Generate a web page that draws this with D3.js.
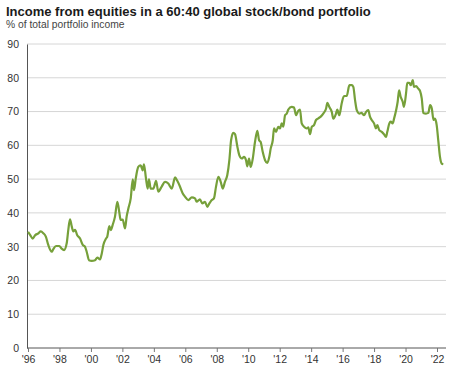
<!DOCTYPE html>
<html>
<head>
<meta charset="utf-8">
<script src="https://cdn.jsdelivr.net/npm/d3@7"></script>
<style>
  body { margin: 0; background: #fff; }
  svg { display: block; font-family: "Liberation Sans", Arial, sans-serif; }
</style>
</head>
<body>
<div class="container"></div>
<script>
// 图表标题
const title = "Income from equities in a 60:40 global stock/bond portfolio";
const subtitle = "% of total portfolio income";

// 时间（年，小数）和股票收入占比
const dates = [
  1996.0, 1996.13, 1996.3, 1996.45, 1996.65, 1996.81, 1996.97, 1997.14, 1997.29, 1997.51,
  1997.61, 1997.78, 1997.99, 1998.14, 1998.29, 1998.46, 1998.56, 1998.67, 1998.78, 1998.88,
  1998.99, 1999.13, 1999.31, 1999.48, 1999.62, 1999.73, 1999.88, 2000.05, 2000.26, 2000.41,
  2000.58, 2000.69, 2000.79, 2000.96, 2001.04, 2001.17, 2001.26, 2001.38, 2001.53, 2001.68,
  2001.8, 2001.89, 2002.02, 2002.17, 2002.27, 2002.38, 2002.53, 2002.66, 2002.74, 2002.85,
  2003.01, 2003.16, 2003.29, 2003.37, 2003.5, 2003.61, 2003.69, 2003.8, 2003.97, 2004.14,
  2004.28, 2004.5, 2004.71, 2004.92, 2005.14, 2005.35, 2005.49, 2005.66, 2005.83, 2005.98,
  2006.19, 2006.41, 2006.62, 2006.72, 2006.93, 2007.08, 2007.25, 2007.4, 2007.53, 2007.68,
  2007.82, 2007.95, 2008.1, 2008.25, 2008.38, 2008.52, 2008.67, 2008.8, 2008.91, 2009.05,
  2009.16, 2009.31, 2009.43, 2009.59, 2009.73, 2009.86, 2009.94, 2010.05, 2010.16, 2010.29,
  2010.43, 2010.58, 2010.69, 2010.79, 2010.92, 2011.07, 2011.21, 2011.34, 2011.43, 2011.56,
  2011.64, 2011.77, 2011.91, 2012.02, 2012.13, 2012.23, 2012.34, 2012.45, 2012.55, 2012.76,
  2012.91, 2013.04, 2013.18, 2013.29, 2013.4, 2013.55, 2013.72, 2013.82, 2013.93, 2014.04,
  2014.18, 2014.31, 2014.46, 2014.61, 2014.77, 2014.95, 2015.03, 2015.15, 2015.31, 2015.41,
  2015.58, 2015.66, 2015.79, 2015.94, 2016.09, 2016.26, 2016.43, 2016.58, 2016.68, 2016.79,
  2016.9, 2017.06, 2017.21, 2017.36, 2017.49, 2017.63, 2017.74, 2017.85, 2018.0, 2018.12,
  2018.21, 2018.33, 2018.49, 2018.63, 2018.76, 2018.84, 2018.97, 2019.06, 2019.18, 2019.27,
  2019.4, 2019.5, 2019.59, 2019.69, 2019.82, 2019.9, 2020.03, 2020.11, 2020.24, 2020.33,
  2020.46, 2020.54, 2020.67, 2020.81, 2020.92, 2021.03, 2021.13, 2021.3, 2021.45, 2021.56,
  2021.67, 2021.78, 2021.87, 2021.98, 2022.08, 2022.19, 2022.3, 2022.4
];
const equityShare = [
  34.4, 33.5, 32.4, 33.4, 33.9, 34.5, 34.0, 32.9, 30.5, 28.5,
  29.3, 30.2, 30.2, 29.4, 29.0, 31.0, 34.9, 38.1, 36.0, 34.5,
  35.0, 33.4, 32.4, 30.5, 30.0, 28.5, 26.0, 25.8, 26.0, 26.8,
  26.2, 28.0, 30.5, 32.4, 33.0, 36.1, 34.9, 36.4, 38.9, 43.3,
  40.3, 37.9, 38.0, 35.4, 38.9, 41.3, 44.3, 49.9, 46.7, 50.2,
  53.6, 54.1, 52.6, 54.4, 50.2, 47.2, 49.9, 47.2, 47.2, 49.5,
  46.3, 47.8, 49.2, 48.7, 47.2, 50.5, 49.5, 47.8, 45.8, 44.8,
  43.8, 44.6, 44.3, 43.3, 44.0, 42.8, 43.3, 41.8, 42.8, 43.8,
  44.3, 47.7, 50.7, 49.2, 47.2, 49.2, 51.2, 55.6, 61.5, 63.7,
  63.3, 59.6, 57.1, 56.1, 56.6, 55.6, 53.8, 56.1, 53.6, 56.1,
  61.0, 64.3, 61.5, 61.0, 58.1, 55.6, 54.8, 56.6, 59.1, 61.5,
  65.0, 64.0, 65.5, 65.0, 66.5, 65.5, 68.9, 69.4, 70.6, 71.4,
  71.2, 68.9, 70.2, 70.6, 66.5, 65.5, 65.0, 65.3, 63.3, 65.5,
  66.0, 67.5, 68.0, 68.5, 69.4, 70.9, 72.6, 71.4, 69.9, 67.9,
  69.4, 70.6, 68.9, 72.4, 74.6, 74.6, 77.8, 77.8, 77.3, 73.4,
  70.4, 69.4, 69.6, 68.9, 69.9, 70.4, 68.5, 67.5, 66.5, 65.0,
  66.0, 64.5, 64.0, 63.3, 62.5, 64.0, 66.5, 67.0, 66.5, 67.9,
  70.4, 72.9, 76.3, 74.4, 72.9, 71.4, 75.3, 78.5, 78.5, 77.8,
  79.3, 77.3, 77.5, 76.8, 76.1, 73.9, 69.6, 69.4, 69.6, 71.9,
  70.9, 67.5, 67.9, 66.0, 61.5, 56.6, 54.6, 54.4
];

// 坐标轴刻度
const yTicks = [0, 10, 20, 30, 40, 50, 60, 70, 80, 90];
const xTicks = [1996, 1998, 2000, 2002, 2004, 2006, 2008, 2010, 2012, 2014, 2016, 2018, 2020, 2022];

const width = 450, height = 372;
const margin = { top: 44, right: 4, bottom: 24, left: 27 };

const data = dates.map((d, i) => ({ t: d, v: equityShare[i] }));

const svg = d3.select(".container")
    .append("svg")
    .attr("width", width)
    .attr("height", height);

// 比例尺
const x = d3.scaleLinear()
    .domain([1996, 2022])
    .range([margin.left + 1, 437]);

const y = d3.scaleLinear()
    .domain([0, 90])
    .range([height - margin.bottom, margin.top]);

// 标题
svg.append("text")
    .attr("x", 6)
    .attr("y", 16)
    .attr("font-size", 13)
    .attr("font-weight", "bold")
    .attr("fill", "#1a1a1a")
    .text(title);

svg.append("text")
    .attr("x", 6)
    .attr("y", 28)
    .attr("font-size", 10.3)
    .attr("fill", "#444")
    .text(subtitle);

// 网格线
svg.append("g")
    .selectAll("line")
    .data(yTicks.filter(d => d > 0))
    .join("line")
    .attr("x1", margin.left)
    .attr("x2", width - margin.right)
    .attr("y1", d => y(d))
    .attr("y2", d => y(d))
    .attr("stroke", "#d6d6d6")
    .attr("stroke-width", 1);

// y轴
const yAxis = svg.append("g")
    .attr("transform", `translate(${margin.left},0)`)
    .call(d3.axisLeft(y).tickValues(yTicks).tickSize(0).tickPadding(8));
yAxis.select(".domain").attr("stroke", "#555");
yAxis.selectAll("text")
    .attr("font-size", 10.5)
    .attr("fill", "#333")
    .attr("font-family", "Liberation Sans, Arial, sans-serif");

// x轴
const xAxis = svg.append("g")
    .attr("transform", `translate(0,${y(0)})`)
    .call(d3.axisBottom(x)
        .tickValues(xTicks)
        .tickSize(4)
        .tickPadding(4)
        .tickFormat(d => "'" + String(d).slice(2)));
xAxis.select(".domain")
    .attr("d", `M${margin.left},0H${width - margin.right}`)
    .attr("stroke", "#555");
xAxis.selectAll(".tick line").attr("stroke", "#777");
xAxis.selectAll("text")
    .attr("font-size", 10.5)
    .attr("fill", "#333")
    .attr("font-family", "Liberation Sans, Arial, sans-serif");

// 折线
const line = d3.line()
    .x(d => x(d.t))
    .y(d => y(d.v))
    .curve(d3.curveMonotoneX);

svg.append("path")
    .datum(data)
    .attr("fill", "none")
    .attr("stroke", "#76a03a")
    .attr("stroke-width", 2.2)
    .attr("stroke-linejoin", "round")
    .attr("d", line);
</script>
</body>
</html>
